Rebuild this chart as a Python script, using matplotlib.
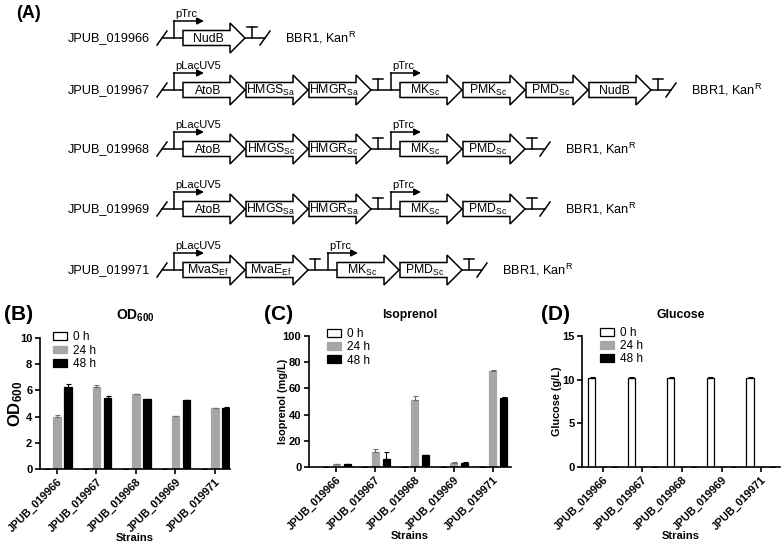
import numpy as np
import matplotlib
matplotlib.use('Agg')
import matplotlib.pyplot as plt
from matplotlib.patches import Polygon, Patch

plt.rcParams['font.family'] = 'Liberation Sans'
plt.rcParams['mathtext.fontset'] = 'custom'
plt.rcParams['mathtext.rm'] = 'Liberation Sans'
plt.rcParams['mathtext.it'] = 'Liberation Sans:italic'
plt.rcParams['mathtext.bf'] = 'Liberation Sans:bold'
plt.rcParams['mathtext.default'] = 'rm'

# Datos de las cepas
cepas = ['JPUB_019966', 'JPUB_019967', 'JPUB_019968', 'JPUB_019969', 'JPUB_019971']
tiempos = ['0 h', '24 h', '48 h']

# Construcciones geneticas (promotor, genes)
op_966 = [('pTrc', ['NudB'])]
op_967 = [('pLacUV5', ['AtoB', 'HMGS$_{Sa}$', 'HMGR$_{Sa}$']),
          ('pTrc', ['MK$_{Sc}$', 'PMK$_{Sc}$', 'PMD$_{Sc}$', 'NudB'])]
op_968 = [('pLacUV5', ['AtoB', 'HMGS$_{Sc}$', 'HMGR$_{Sc}$']),
          ('pTrc', ['MK$_{Sc}$', 'PMD$_{Sc}$'])]
op_969 = [('pLacUV5', ['AtoB', 'HMGS$_{Sa}$', 'HMGR$_{Sa}$']),
          ('pTrc', ['MK$_{Sc}$', 'PMD$_{Sc}$'])]
op_971 = [('pLacUV5', ['MvaS$_{Ef}$', 'MvaE$_{Ef}$']),
          ('pTrc', ['MK$_{Sc}$', 'PMD$_{Sc}$'])]
plasmido = 'BBR1, Kan$^{R}$'

# OD600
od_0h = [0, 0, 0, 0, 0]
od_24h = [3.97, 6.26, 5.73, 4.02, 4.66]
od_48h = [6.26, 5.45, 5.34, 5.24, 4.68]
od_24h_err = [0.12, 0.15, 0.03, 0.03, 0.03]
od_48h_err = [0.25, 0.12, 0.03, 0.03, 0.03]

# Isoprenol (mg/L)
iso_0h = [0, 0, 0, 0, 0]
iso_24h = [2.2, 11.5, 51.5, 3.2, 73.5]
iso_48h = [2.0, 5.9, 8.8, 3.2, 53.0]
iso_24h_err = [0.3, 2.6, 2.5, 0.3, 0.6]
iso_48h_err = [0.2, 5.6, 0.4, 0.3, 0.2]

# Glucosa (g/L)
glu_0h = [10.2, 10.2, 10.2, 10.2, 10.2]
glu_24h = [0, 0, 0, 0, 0]
glu_48h = [0, 0, 0, 0, 0]
glu_0h_err = [0.1, 0.1, 0.1, 0.1, 0.1]
glu_24h_err = [0, 0, 0, 0, 0]
glu_48h_err = [0, 0, 0, 0, 0]

fig = plt.figure(figsize=(7.83, 5.48), dpi=100)

# Panel A en coordenadas de pixeles
ax_a = fig.add_axes([0, 0, 1, 1])
ax_a.set_xlim(0, 783)
ax_a.set_ylim(548, 0)
ax_a.axis('off')

filas_y = [38, 90, 149, 209, 270]
operones = [op_966, op_967, op_968, op_969, op_971]


def barra(ax, x, y):
    ax.plot([x - 5, x + 5], [y + 7, y - 7], color='k', lw=1.1)


def terminador(ax, x, y):
    ax.plot([x, x], [y, y - 11], color='k', lw=1.1)
    ax.plot([x - 5, x + 5], [y - 11, y - 11], color='k', lw=1.1)


def promotor(ax, x, y, nombre):
    ax.plot([x, x], [y, y - 17], color='k', lw=1.1)
    ax.annotate('', xy=(x + 30, y - 17), xytext=(x - 0.5, y - 17),
                arrowprops=dict(arrowstyle='-|>', lw=1.1, color='k',
                                mutation_scale=10, shrinkA=0, shrinkB=0))
    ax.text(x + 1, y - 24, nombre, fontsize=8, ha='left', va='center')


def gen(ax, x0, y, nombre):
    w, hl, bh, hh = 62, 15, 7.5, 15
    pts = [(x0, y - bh), (x0 + w - hl, y - bh), (x0 + w - hl, y - hh),
           (x0 + w, y), (x0 + w - hl, y + hh), (x0 + w - hl, y + bh),
           (x0, y + bh)]
    ax.add_patch(Polygon(pts, closed=True, facecolor='white',
                         edgecolor='k', lw=1.1, zorder=3))
    ax.text(x0 + (w - hl) / 2 + 1.5, y + 4, nombre, fontsize=8.8,
            ha='center', va='baseline', zorder=4)


for nombre, y, ops in zip(cepas, filas_y, operones):
    ax_a.text(150, y, nombre, fontsize=9.2, ha='right', va='center')
    x = 162
    inicio = x
    barra(ax_a, x, y)
    for j, (prom, genes) in enumerate(ops):
        xp = x + 12 if j == 0 else x + 13
        promotor(ax_a, xp, y, prom)
        xg = xp + 9
        for g in genes:
            gen(ax_a, xg, y, g)
            xg += 63
        x = xg - 1 + 7
        terminador(ax_a, x, y)
    x_fin = x + 13
    barra(ax_a, x_fin, y)
    ax_a.plot([inicio, x_fin], [y, y], color='k', lw=1.1, zorder=1)
    ax_a.text(x_fin + 20, y, plasmido, fontsize=9.2, ha='left', va='center')

ax_a.text(16, 14, '(A)', fontsize=13, fontweight='bold', va='center')
ax_a.text(4, 314, '(B)', fontsize=15, fontweight='bold', va='center')
ax_a.text(264, 314, '(C)', fontsize=15, fontweight='bold', va='center')
ax_a.text(541, 314, '(D)', fontsize=15, fontweight='bold', va='center')

colores = ['white', '#a6a6a6', 'black']
bordes = ['black', '#a6a6a6', 'black']
colores_err = ['black', '#6e6e6e', 'black']


def graficar(ax, series, errores, ylim, yticks, titulo, titulo_size, ylabel,
             ylabel_size, xlim, ylabel_x, leg_pos):
    x = np.arange(len(cepas))
    for k in range(3):
        ax.bar(x + (k - 1) * 0.28, series[k], 0.18, color=colores[k],
               edgecolor=bordes[k], linewidth=0.9,
               yerr=[np.zeros(len(cepas)), errores[k]], capsize=1.8,
               error_kw=dict(elinewidth=0.8, capthick=0.8,
                             ecolor=colores_err[k]))
    ax.set_xlim(xlim)
    ax.set_ylim(ylim)
    ax.set_yticks(yticks)
    ax.set_xticks(x)
    ax.set_xticklabels(cepas, rotation=45, ha='right', rotation_mode='anchor',
                       fontsize=7.8, fontweight='bold')
    for t in ax.get_yticklabels():
        t.set_fontweight('bold')
        t.set_fontsize(8)
    ax.spines['top'].set_visible(False)
    ax.spines['right'].set_visible(False)
    ax.spines['left'].set_linewidth(1.2)
    ax.spines['bottom'].set_linewidth(1.2)
    ax.tick_params(direction='out', length=3.5, width=1.2, pad=2)
    ax.set_title(titulo, fontsize=titulo_size, fontweight='bold', pad=13)
    ax.set_ylabel(ylabel, fontsize=ylabel_size, fontweight='bold')
    ax.yaxis.set_label_coords(ylabel_x, 0.5)
    ax.set_xlabel('Strains', fontsize=8, fontweight='bold')
    ax.xaxis.set_label_coords(0.5, -0.49)
    manijas = [Patch(facecolor=colores[k], edgecolor=bordes[k], lw=0.9,
                     label=tiempos[k]) for k in range(3)]
    ax.legend(handles=manijas, loc='upper left', bbox_to_anchor=leg_pos,
              frameon=False, fontsize=8.5, handlelength=1.2, handleheight=0.65,
              handletextpad=0.5, labelspacing=0.1, borderpad=0,
              borderaxespad=0)


ax_b = fig.add_axes([40 / 783, 1 - 469 / 548, 190 / 783, 131 / 548])
graficar(ax_b, [od_0h, od_24h, od_48h], [od_0h, od_24h_err, od_48h_err],
         (0, 10), [0, 2, 4, 6, 8, 10], r'$\mathbf{OD_{600}}$', 10,
         r'$\mathbf{OD_{600}}$', 12, (-0.43, 4.38), -0.08, (0.07, 1.05))

ax_c = fig.add_axes([309 / 783, 1 - 467 / 548, 202 / 783, 131 / 548])
graficar(ax_c, [iso_0h, iso_24h, iso_48h], [iso_0h, iso_24h_err, iso_48h_err],
         (0, 100), [0, 20, 40, 60, 80, 100], 'Isoprenol', 8.8,
         'Isoprenol (mg/L)', 7.8, (-0.69, 4.46), -0.105, (0.09, 1.06))

ax_d = fig.add_axes([582 / 783, 1 - 467 / 548, 198 / 783, 131 / 548])
graficar(ax_d, [glu_0h, glu_24h, glu_48h],
         [glu_0h_err, glu_24h_err, glu_48h_err],
         (0, 15), [0, 5, 10, 15], 'Glucose', 8.8,
         'Glucose (g/L)', 7.8, (-0.53, 4.48), -0.1, (0.09, 1.07))

fig.savefig('out.png', dpi=100)
